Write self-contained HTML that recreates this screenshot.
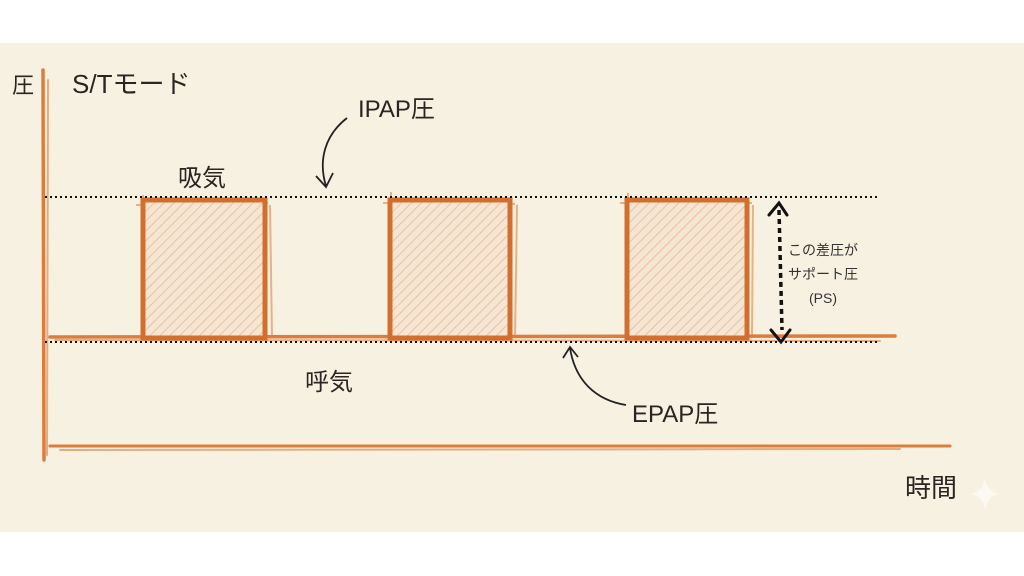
<!DOCTYPE html>
<html><head><meta charset="utf-8"><style>
body{margin:0;width:1024px;height:576px;background:#fff;overflow:hidden;font-family:"Liberation Sans","Noto Sans CJK JP",sans-serif}
.t{position:absolute;color:#2a2522;white-space:nowrap}
</style></head><body>
<svg width="1024" height="576" style="position:absolute;left:0;top:0">
<defs><pattern id="h" width="7" height="7" patternUnits="userSpaceOnUse" patternTransform="rotate(45)"><rect width="7" height="7" fill="#f5e6d3"/><line x1="0" y1="0" x2="0" y2="7" stroke="#e8b48e" stroke-width="1.5"/></pattern></defs>
<rect x="0" y="43" width="1024" height="489" fill="#f6f1e1"/>
<g stroke="#dc7d3e" fill="none" stroke-linecap="round">
<line x1="43" y1="70" x2="44" y2="460" stroke-width="3.5"/>
<line x1="48" y1="80" x2="47" y2="455" stroke-width="2" opacity=".6"/>
<line x1="50" y1="446" x2="950" y2="446" stroke-width="3"/>
<line x1="60" y1="450" x2="900" y2="449" stroke-width="2" opacity=".6"/>
<line x1="50" y1="337" x2="895" y2="336" stroke-width="3.5"/>
<line x1="55" y1="340" x2="880" y2="341" stroke-width="2" opacity=".6"/>
</g>
<g stroke="#dc7d3e" fill="none" stroke-width="2" opacity=".55">
<path d="M136 205 L268 203 M146 340 L143 195 M270 205 L272 338"/>
<path d="M383 203 L515 204 M393 340 L391 192 M517 205 L515 338"/>
<path d="M620 203 L752 203 M630 340 L628 193 M753 205 L752 338"/>
</g>
<g>
<rect x="143" y="200" width="122" height="138" fill="url(#h)" stroke="#d36f2e" stroke-width="5"/>
<rect x="390" y="200" width="120" height="138" fill="url(#h)" stroke="#d36f2e" stroke-width="5"/>
<rect x="627" y="200" width="120" height="138" fill="url(#h)" stroke="#d36f2e" stroke-width="5"/>
</g>
<line x1="45" y1="197" x2="880" y2="197" stroke="#111" stroke-width="2" stroke-dasharray="2 3"/>
<line x1="45" y1="342" x2="880" y2="342" stroke="#111" stroke-width="2" stroke-dasharray="2 3"/>
<line x1="779" y1="210" x2="782" y2="330" stroke="#111" stroke-width="3.5" stroke-dasharray="5 4"/>
<path d="M769 215 L779 203 L787 215 M771 330 L781 342 L790 330" stroke="#111" stroke-width="3" fill="none" stroke-linecap="round"/>
<path d="M347 118 C325 135 318 160 326 186 M316 176 L326 187 L333 173" stroke="#222" stroke-width="1.8" fill="none"/>
<path d="M626 405 C595 400 575 380 570 348 M563 358 L570 347 L578 357" stroke="#222" stroke-width="1.8" fill="none"/>
<path d="M985 478 Q987 492 1000 494 Q987 496 985 510 Q983 496 970 494 Q983 492 985 478Z" fill="#fbf9f2"/>
</svg>
<div class="t" style="left:12px;top:68px;font-size:22px">圧</div>
<div class="t" style="left:72px;top:64px;font-size:26px">S/Tモード</div>
<div class="t" style="left:178px;top:158px;font-size:24px">吸気</div>
<div class="t" style="left:358px;top:89px;font-size:24px">IPAP圧</div>
<div class="t" style="left:305px;top:362px;font-size:24px">呼気</div>
<div class="t" style="left:632px;top:394px;font-size:24px">EPAP圧</div>
<div class="t" style="left:905px;top:468px;font-size:26px">時間</div>
<div class="t" style="left:788px;top:238px;font-size:14px;line-height:24px;text-align:center;color:#333">この差圧が<br>サポート圧<br>(PS)</div>
</body></html>
